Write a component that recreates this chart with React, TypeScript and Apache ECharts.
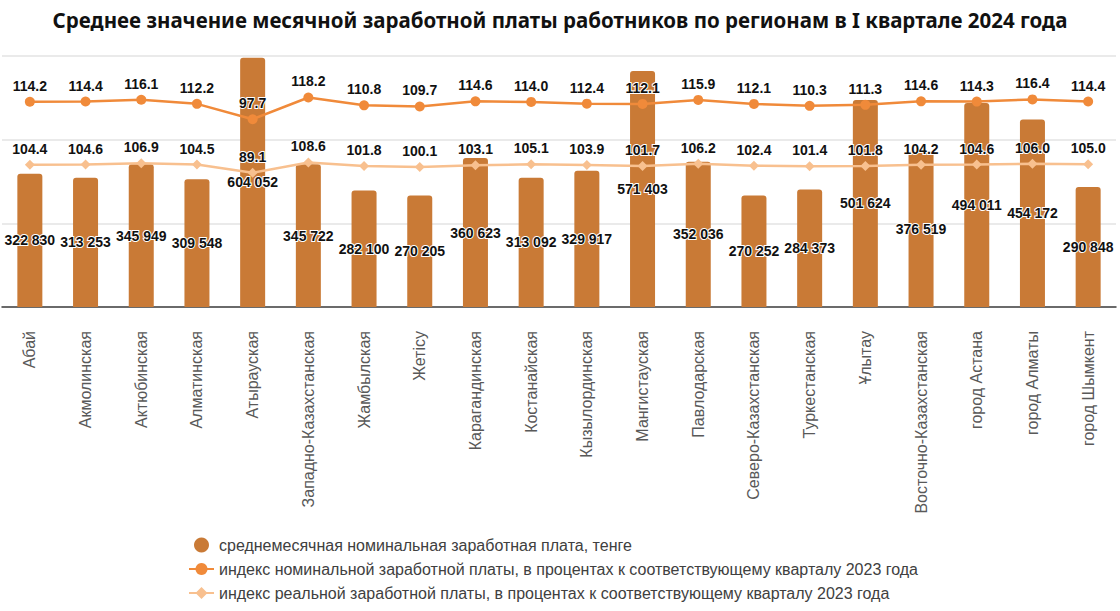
import React, { useEffect, useRef } from "react";
import * as echarts from "echarts";

const titleText =
  "Среднее значение месячной заработной платы работников по регионам в I квартале 2024 года";

const regions = [
  "Абай",
  "Акмолинская",
  "Актюбинская",
  "Алматинская",
  "Атырауская",
  "Западно-Казахстанская",
  "Жамбылская",
  "Жетісу",
  "Карагандинская",
  "Костанайская",
  "Кызылординская",
  "Мангистауская",
  "Павлодарская",
  "Северо-Казахстанская",
  "Туркестанская",
  "Ұлытау",
  "Восточно-Казахстанская",
  "город Астана",
  "город Алматы",
  "город Шымкент",
];

const wages = [
  322830, 313253, 345949, 309548, 604052, 345722, 282100, 270205, 360623, 313092,
  329917, 571403, 352036, 270252, 284373, 501624, 376519, 494011, 454172, 290848,
];

const nominalIndex = [
  114.2, 114.4, 116.1, 112.2, 97.7, 118.2, 110.8, 109.7, 114.6, 114.0, 112.4, 112.1,
  115.9, 112.1, 110.3, 111.3, 114.6, 114.3, 116.4, 114.4,
];

const realIndex = [
  104.4, 104.6, 106.9, 104.5, 89.1, 108.6, 101.8, 100.1, 103.1, 105.1, 103.9, 101.7,
  106.2, 102.4, 101.4, 101.8, 104.2, 104.6, 106.0, 105.0,
];

const seriesNames = [
  "среднемесячная номинальная заработная плата, тенге",
  "индекс номинальной заработной платы, в процентах к соответствующему кварталу 2023 года",
  "индекс реальной заработной платы, в процентах к соответствующему кварталу 2023 года",
];

const BAR_COLOR = "#C97A36";
const NOM_COLOR = "#F08A3A";
const REAL_COLOR = "#F8C08F";

const fmtThousands = (v: number) =>
  String(Math.round(v)).replace(/\B(?=(\d{3})+(?!\d))/g, " ");

export default function App() {
  const ref = useRef<HTMLDivElement>(null);

  useEffect(() => {
    if (!ref.current) return;
    const chart = echarts.init(ref.current, undefined, { renderer: "svg" });
    const barMax = 608000;
    const numFont = "'Liberation Sans', Arial, sans-serif";
    chart.setOption({
      animation: false,
      backgroundColor: "#ffffff",
      title: {
        text: titleText,
        left: "center",
        top: 4,
        textStyle: {
          fontFamily: "'Noto Sans', 'Open Sans', sans-serif",
          fontWeight: "bold",
          fontSize: 20.5,
          color: "#111111",
        },
      },
      grid: { left: 2, right: 4, top: 56, bottom: 304, containLabel: false },
      legend: {
        orient: "vertical",
        left: 188,
        top: 537,
        height: 90,
        padding: 0,
        itemGap: 8,
        itemWidth: 25,
        itemHeight: 15,
        textStyle: {
          fontFamily: numFont,
          fontSize: 16,
          color: "#404040",
        },
        data: [
          { name: seriesNames[0], icon: "circle" },
          { name: seriesNames[1] },
          { name: seriesNames[2] },
        ],
      },
      xAxis: {
        type: "category",
        data: regions,
        axisTick: { show: false },
        axisLine: { lineStyle: { color: "#404040", width: 1.5 } },
        axisLabel: {
          interval: 0,
          rotate: 90,
          margin: 24,
          fontFamily: numFont,
          fontSize: 16,
          color: "#595959",
        },
      },
      yAxis: [
        {
          type: "value",
          min: 0,
          max: barMax,
          interval: barMax / 3,
          axisLabel: { show: false },
          axisLine: { show: false },
          axisTick: { show: false },
          splitLine: { show: true, lineStyle: { color: "#E3E3E3", width: 1.5 } },
        },
        { type: "value", show: false, min: -79.3, max: 157.3, splitLine: { show: false } },
        { type: "value", show: false, min: -161.7, max: 307.5, splitLine: { show: false } },
      ],
      series: [
        {
          name: seriesNames[0],
          type: "bar",
          data: wages,
          yAxisIndex: 0,
          barWidth: 25,
          itemStyle: { color: BAR_COLOR, borderRadius: [3, 3, 0, 0] },
          label: {
            show: true,
            position: "inside",
            formatter: (p: any) => fmtThousands(p.value),
            fontFamily: numFont,
            fontWeight: "bold",
            fontSize: 14,
            color: "#111111",
            textBorderColor: "#ffffff",
            textBorderWidth: 2,
          },
          z: 1,
        },
        {
          name: seriesNames[1],
          type: "line",
          data: nominalIndex,
          yAxisIndex: 1,
          symbol: "circle",
          symbolSize: 10,
          lineStyle: { color: NOM_COLOR, width: 2.5 },
          itemStyle: { color: NOM_COLOR },
          label: {
            show: true,
            position: "top",
            distance: 4,
            formatter: (p: any) => Number(p.value).toFixed(1),
            fontFamily: numFont,
            fontWeight: "bold",
            fontSize: 14,
            color: "#111111",
            textBorderColor: "#ffffff",
            textBorderWidth: 2,
          },
          z: 3,
        },
        {
          name: seriesNames[2],
          type: "line",
          data: realIndex,
          yAxisIndex: 2,
          symbol: "diamond",
          symbolSize: 10,
          lineStyle: { color: REAL_COLOR, width: 2.5 },
          itemStyle: { color: REAL_COLOR },
          label: {
            show: true,
            position: "top",
            distance: 4,
            formatter: (p: any) => Number(p.value).toFixed(1),
            fontFamily: numFont,
            fontWeight: "bold",
            fontSize: 14,
            color: "#111111",
            textBorderColor: "#ffffff",
            textBorderWidth: 2,
          },
          z: 2,
        },
      ],
    });
    return () => chart.dispose();
  }, []);

  return (
    <div
      ref={ref}
      style={{ position: "absolute", left: 0, top: 0, width: 1120, height: 611 }}
    />
  );
}
